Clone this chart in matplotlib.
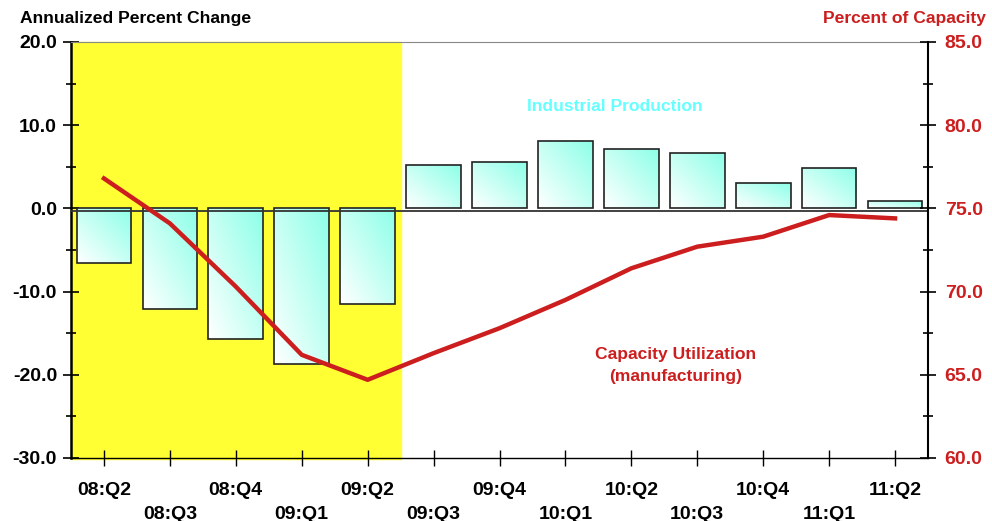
import numpy as np
import matplotlib
matplotlib.use('Agg')
import matplotlib.pyplot as plt
from matplotlib.patches import Rectangle
from matplotlib.ticker import MultipleLocator

plt.rcParams['font.family'] = ['Liberation Sans', 'DejaVu Sans']

quarters = ['08:Q2', '08:Q3', '08:Q4', '09:Q1', '09:Q2', '09:Q3', '09:Q4',
            '10:Q1', '10:Q2', '10:Q3', '10:Q4', '11:Q1', '11:Q2']
ip_change = [-6.6, -12.1, -15.7, -18.7, -11.5, 5.2, 5.6, 8.1, 7.1, 6.7, 3.1, 4.9, 0.9]
cap_util = [76.8, 74.1, 70.3, 66.2, 64.7, 66.3, 67.8, 69.5, 71.4, 72.7, 73.3, 74.6, 74.4]
recession = (-0.5, 4.5)

red = '#CC1E1E'
x = np.arange(len(quarters))

fig = plt.figure(figsize=(9.92, 5.21), dpi=100)
ax = fig.add_axes([71/992, 63/521, 857/992, 416/521])

# recession shading
ax.axvspan(*recession, ymin=-0.003, color='#FFFF33', zorder=0, clip_on=False)

# bars with diagonal gradient white -> aquamarine
grad = np.linspace(0, 1, 64)
gx, gy = np.meshgrid(grad, grad)
g = (gx + gy) / 2
top = np.array([0.55, 1.0, 0.91])
img = np.ones((64, 64, 3)) * (1 - g[..., None]) + top * g[..., None]
w = 0.83
for xi, v in zip(x, ip_change):
    lo, hi = min(0, v), max(0, v)
    rect = Rectangle((xi - w/2, lo), w, hi - lo, facecolor='none',
                     edgecolor='#222222', lw=1.2, zorder=3)
    ax.add_patch(rect)
    im = ax.imshow(img, extent=(xi - w/2, xi + w/2, lo, hi), origin='lower',
                   aspect='auto', zorder=2, interpolation='bilinear')
    im.set_clip_path(rect)
ax.set_xlim(-0.5, len(quarters) - 0.5)
ax.set_ylim(-30, 20)
ax.axhline(-0.3, color='#333333', lw=1.3, zorder=4)

ax.set_xticks(x)
labels = [q if i % 2 == 0 else '\n' + q for i, q in enumerate(quarters)]
ax.set_xticklabels(labels, fontsize=14, fontweight='bold')
for t in ax.get_xticklabels():
    t.set_linespacing(1.55)
ax.tick_params(axis='x', direction='inout', length=12, width=1, pad=11)

ax.yaxis.set_major_locator(MultipleLocator(10))
ax.yaxis.set_minor_locator(MultipleLocator(5))
ax.yaxis.set_major_formatter(lambda v, p: f'{v:.1f}')
ax.tick_params(axis='y', which='major', direction='inout', length=12, width=1.2,
               labelsize=14, pad=4)
ax.tick_params(axis='y', which='minor', direction='inout', length=7, width=1.2)
for t in ax.get_yticklabels():
    t.set_fontweight('bold')

ax.spines['left'].set_linewidth(1.8)
ax.spines['bottom'].set_linewidth(1)
ax.spines['top'].set_color('#888888')
ax.spines['right'].set_visible(False)

ax2 = ax.twinx()
ax2.set_ylim(60, 85)
ax2.plot(x, cap_util, color=red, lw=3.2, zorder=5)
ax2.yaxis.set_major_locator(MultipleLocator(5))
ax2.yaxis.set_minor_locator(MultipleLocator(2.5))
ax2.yaxis.set_major_formatter(lambda v, p: f'{v:.1f}')
ax2.tick_params(axis='y', which='major', direction='inout', length=12, width=1.2,
                labelsize=14, labelcolor=red, pad=6)
ax2.tick_params(axis='y', which='minor', direction='inout', length=7, width=1.2)
for t in ax2.get_yticklabels():
    t.set_fontweight('bold')
ax2.spines['right'].set_linewidth(1.5)
for s in ['left', 'top', 'bottom']:
    ax2.spines[s].set_visible(False)

fig.text(20/992, 1 - 18/521, 'Annualized Percent Change', fontsize=12.6,
         fontweight='bold', va='center', ha='left')
fig.text(986/992, 1 - 18/521, 'Percent of Capacity', fontsize=12.6,
         fontweight='bold', va='center', ha='right', color=red)
ax.text(7.75, 12.3, 'Industrial Production', fontsize=12.6, fontweight='bold',
        color='#66FFFF', ha='center', va='center')
ax.text(8.67, -18.9, 'Capacity Utilization\n(manufacturing)', fontsize=12.6,
        fontweight='bold', color=red, ha='center', va='center', linespacing=1.55)

fig.savefig('out.png', dpi=100)
